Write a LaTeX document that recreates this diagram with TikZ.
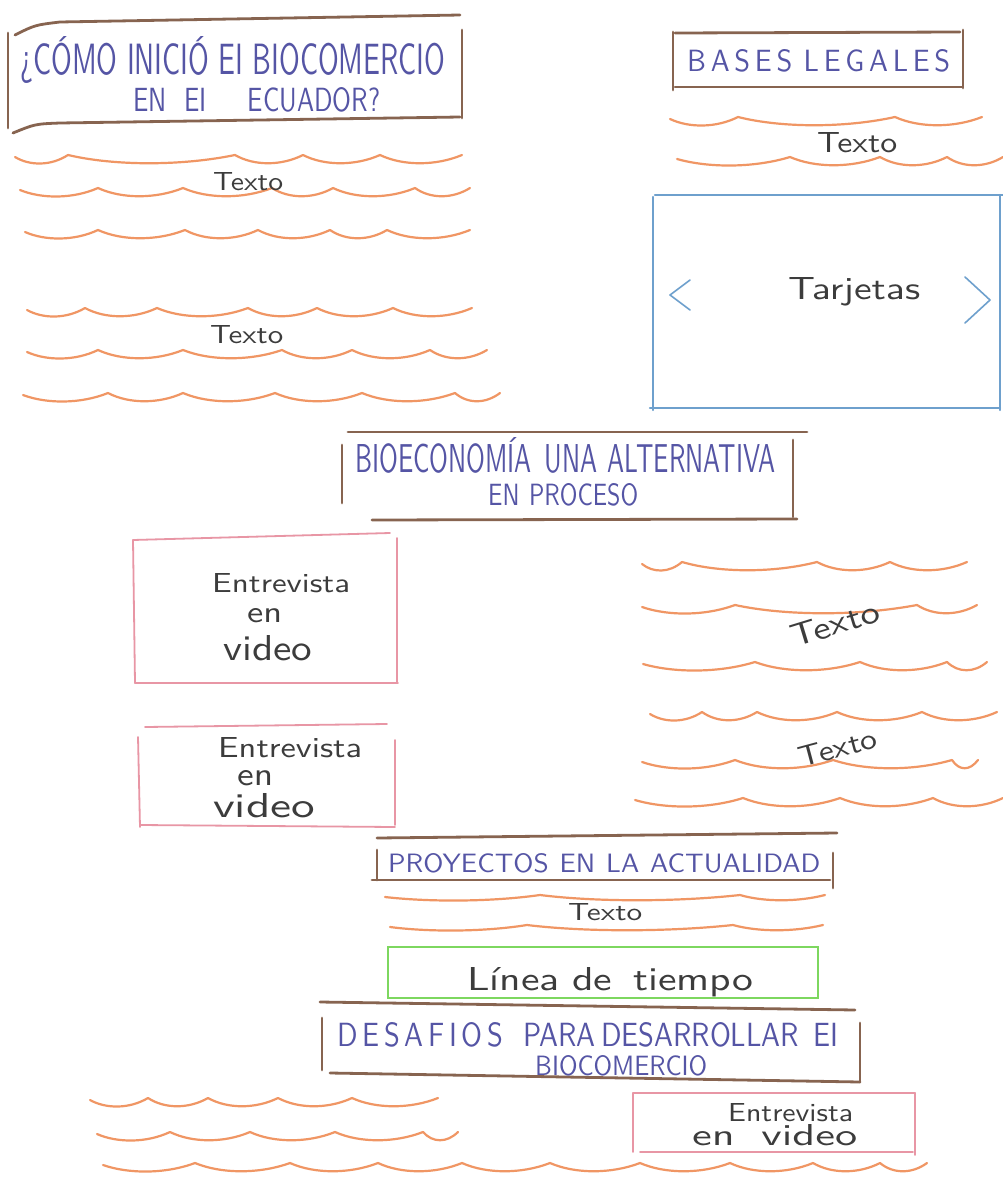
\documentclass[tikz,border=0pt]{standalone}
\usepackage{graphicx}
\definecolor{brownc}{RGB}{135,100,80}
\definecolor{orangec}{RGB}{240,150,100}
\definecolor{pinkc}{RGB}{232,150,165}
\definecolor{bluec}{RGB}{110,160,205}
\definecolor{greenc}{RGB}{125,215,95}
\definecolor{headc}{RGB}{85,85,165}
\definecolor{inkc}{RGB}{60,60,60}
\tikzset{
 brn/.style={draw=brownc, line width=2.8pt, line cap=round},
 org/.style={draw=orangec, line width=2.2pt, line cap=round, line join=round},
 pnk/.style={draw=pinkc, line width=1.8pt, line cap=round},
 blu/.style={draw=bluec, line width=2.4pt, line cap=round},
 grn/.style={draw=greenc, line width=2pt},
 hd/.style={anchor=base west, inner sep=0pt, text=headc},
 ink/.style={anchor=base west, inner sep=0pt, text=inkc},
}
\newcommand\fitcap[3]{\resizebox{#1pt}{#2pt}{\sffamily #3}}
\newcommand\wave[4][11]{\draw[org] (#3,#2+2) \foreach \c [remember=\c as \p (initially #3)] in {#4}{ .. controls ({\p+0.28*(\c-\p)},#2+#1) and ({\c-0.32*(\c-\p)},#2+#1) .. (\c,#2)};}
\begin{document}
\begin{tikzpicture}[x=1pt,y=-1pt]
\useasboundingbox (0,0) rectangle (1003,1180);
\fill[white] (0,0) rectangle (1003,1180);

% ---- heading 1
\draw[brn] (15,35) .. controls (35,25) .. (60,22) -- (460,15);
\draw[brn] (8,33) -- (8,128);
\draw[brn] (462,30) -- (462,118);
\draw[brn] (13,133) .. controls (35,124) .. (60,123) -- (460,117);
\node[hd] (h1a) at (20,75) {\fitcap{425}{38}{¿CÓMO INICIÓ EI BIOCOMERCIO}};
\node[hd] (h1b) at (133,112) {\fitcap{247}{24}{EN\hspace{0.7em}EI\hspace{1.6em}ECUADOR?}};

% ---- left text groups
\wave{155}{15}{68,235,303,380,462}
\wave{188}{20}{98,183,272,333,415,470}
\wave{230}{25}{98,185,258,330,387,470}
\node[ink] (t1) at (213,190) {\fitcap{70}{18}{Texto}};
\wave{308}{27}{85,157,248,317,393,472}
\wave{350}{27}{98,183,282,352,430,487}
\wave{393}{23}{108,183,275,362,455,500}
\node[ink] (t2) at (210,343) {\fitcap{73}{18}{Texto}};

% ---- bases legales
\draw[brn] (675,33) -- (960,32);
\draw[brn] (675,87) -- (962,87);
\draw[brn] (673,32) -- (673,90);
\draw[brn] (963,30) -- (963,88);
\node[hd] (h2) at (687,72) {\fitcap{263}{22}{B\,A\,S\,E\,S\hspace{0.4em}L\,E\,G\,A\,L\,E\,S}};
\wave{117}{670}{738,895,982}
\wave{157}{677}{790,880,947,1003}
\node[ink] (t3) at (817,153) {\fitcap{80}{20}{Texto}};

% ---- tarjetas
\draw[blu] (655,195) -- (1003,195);
\draw[blu] (653,197) -- (653,410);
\draw[blu] (650,408) -- (1000,408);
\draw[blu] (1000,195) -- (1000,410);
\node[ink] (tj) at (788,299) {\fitcap{132}{22}{Tarjetas}};
\draw[draw=bluec, line width=1.6pt, line cap=round, line join=round] (690,280) -- (670,295) -- (690,310);
\draw[draw=bluec, line width=1.6pt, line cap=round, line join=round] (965,277) -- (990,300) -- (965,323);

% ---- bioeconomia
\draw[brn] (348,432) -- (807,432);
\draw[brn] (342,445) -- (342,503);
\draw[brn] (793,440) -- (793,517);
\draw[brn] (372,520) -- (797,519);
\node[hd] (h3a) at (355,472) {\fitcap{420}{35}{BIOECONOMÍA\hspace{0.5em}UNA\hspace{0.4em}ALTERNATIVA}};
\node[hd] (h3b) at (488,505) {\fitcap{150}{22}{EN\hspace{0.4em}PROCESO}};

% ---- entrevistas left
\draw[pnk] (133,540) -- (390,533);
\draw[pnk] (133,540) -- (135,683);
\draw[pnk] (397,538) -- (397,683);
\draw[pnk] (135,683) -- (398,683);
\node[ink] (e1a) at (212,592) {\fitcap{138}{19}{Entrevista}};
\node[ink] (e1b) at (247,622) {\fitcap{35}{14}{en}};
\node[ink] (e1c) at (223,660) {\fitcap{89}{25}{video}};

\draw[pnk] (145,727) -- (387,724);
\draw[pnk] (138,737) -- (140,827);
\draw[pnk] (395,740) -- (395,825);
\draw[pnk] (140,825) -- (395,827);
\node[ink] (e2a) at (218,757) {\fitcap{144}{20}{Entrevista}};
\node[ink] (e2b) at (237,785) {\fitcap{36}{15}{en}};
\node[ink] (e2c) at (213,817) {\fitcap{102}{24}{video}};

% ---- right text groups
\wave{562}{642}{682,817,890,967}
\wave{605}{642}{735,917,977}
\wave{662}{643}{755,860,947,987}
\node[rotate=17, inner sep=0pt, text=inkc] (t4) at (835,624) {\fitcap{92}{22}{Texto}};
\wave{712}{650}{702,757,837,922,997}
\wave{760}{642}{735,833,952,978}
\wave{798}{635}{743,840,933,1003}
\node[rotate=15, inner sep=0pt, text=inkc] (t5) at (838,748) {\fitcap{80}{20}{Texto}};

% ---- proyectos
\draw[brn] (377,838) -- (837,833);
\draw[brn] (377,850) -- (377,880);
\draw[brn] (372,880) -- (830,880);
\draw[brn] (833,853) -- (833,888);
\node[hd] (h4) at (388,872) {\fitcap{432}{19}{PROYECTOS\hspace{0.4em}EN\hspace{0.4em}LA\hspace{0.4em}ACTUALIDAD}};
\wave[7]{895}{385}{540,740,825}
\wave[7]{925}{390}{527,733,823}
\node[ink] (t6) at (568,920) {\fitcap{74}{17}{Texto}};

% ---- linea de tiempo
\draw[grn] (388,947) rectangle (818,998);
\node[ink] (lt) at (467,990) {\fitcap{286}{23}{Línea\hspace{0.3em}de\hspace{0.5em}tiempo}};

% ---- desafios
\draw[brn] (320,1002) -- (855,1010);
\draw[brn] (322,1018) -- (322,1070);
\draw[brn] (330,1073) -- (860,1082);
\draw[brn] (860,1023) -- (860,1082);
\node[hd] (h5a) at (337,1046) {\fitcap{501}{24}{D\,E\,S\,A\,F\,I\,O\,S\hspace{0.7em}PARA\hspace{0.2em}DESARROLLAR\hspace{0.5em}EI}};
\node[hd] (h5b) at (535,1075) {\fitcap{172}{20}{BIOCOMERCIO}};

% ---- bottom
\wave{1098}{90}{148,208,278,352,438}
\wave{1132}{97}{170,250,335,423,458}
\wave{1163}{103}{195,290,378,462,550,640,730,813,880,927}
\draw[pnk] (633,1093) -- (915,1093);
\draw[pnk] (633,1093) -- (633,1152);
\draw[pnk] (915,1093) -- (915,1155);
\draw[pnk] (640,1152) -- (913,1152);
\node[ink] (e3a) at (728,1121) {\fitcap{125}{18}{Entrevista}};
\node[ink] (e3b) at (692,1145) {\fitcap{165}{21}{en\hspace{0.6em}video}};
\end{tikzpicture}
\end{document}
